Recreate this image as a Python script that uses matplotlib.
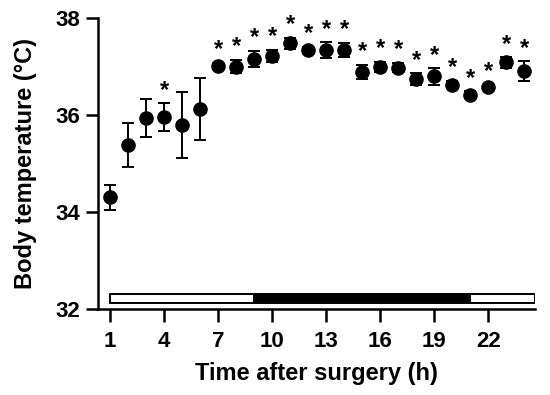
import numpy as np
import matplotlib
matplotlib.use("Agg")
import matplotlib.pyplot as plt

plt.rcParams['font.family'] = ['Liberation Sans', 'DejaVu Sans']
plt.rcParams['font.weight'] = 'bold'

# hourly body temperature after surgery (mean and error)
hours = np.arange(1, 25)
temp_mean = [34.30, 35.38, 35.94, 35.96, 35.79, 36.13, 37.02, 37.00, 37.16, 37.22,
             37.48, 37.35, 37.34, 37.34, 36.89, 36.99, 36.98, 36.75, 36.80, 36.63,
             36.42, 36.58, 37.09, 36.91]
temp_err = [0.25, 0.45, 0.40, 0.29, 0.68, 0.64, 0.06, 0.14, 0.17, 0.13,
            0.12, 0.06, 0.16, 0.15, 0.15, 0.11, 0.10, 0.12, 0.17, 0.08,
            0.07, 0.05, 0.11, 0.20]
significant = [False, False, False, True, False, False] + [True] * 18

# light/dark bar (start, end, colour)
phase_start = [1, 9, 21]
phase_end = [9, 21, 24.6]
phase_color = ['white', 'black', 'white']

fig = plt.figure(figsize=(5.5, 3.95), dpi=100)
ax = fig.add_axes([0.178, 0.218, 0.795, 0.736])

ax.errorbar(hours, temp_mean, yerr=temp_err, fmt='o', color='black',
            markersize=9.5, elinewidth=1.4, capsize=4.5, capthick=1.4)

# stars above significant points
for h, m, e, s in zip(hours, temp_mean, temp_err, significant):
    if s:
        ax.annotate('*', (h, m + e), xytext=(0, 1), textcoords='offset points',
                    ha='center', va='bottom', fontsize=17, fontweight='bold')

# light-dark bar
for s, e, c in zip(phase_start, phase_end, phase_color):
    ax.barh(32.22, e - s, left=s, height=0.18, color=c, edgecolor='black',
            linewidth=1.4, zorder=3)

ax.set_xlim(0.33, 24.6)
ax.set_ylim(32, 38)
ax.set_xticks([1, 4, 7, 10, 13, 16, 19, 22])
ax.set_yticks([32, 34, 36, 38])

for side in ['top', 'right']:
    ax.spines[side].set_visible(False)
for side in ['left', 'bottom']:
    ax.spines[side].set_linewidth(1.8)

ax.tick_params(axis='both', direction='out', length=9, width=1.8, labelsize=16)
ax.tick_params(axis='x', pad=7)
ax.tick_params(axis='y', pad=4)
ax.set_xlabel('Time after surgery (h)', fontsize=17, fontweight='bold', labelpad=7)
ax.set_ylabel('Body temperature (°C)', fontsize=17, fontweight='bold', labelpad=13)

fig.savefig('out.png', dpi=100)
